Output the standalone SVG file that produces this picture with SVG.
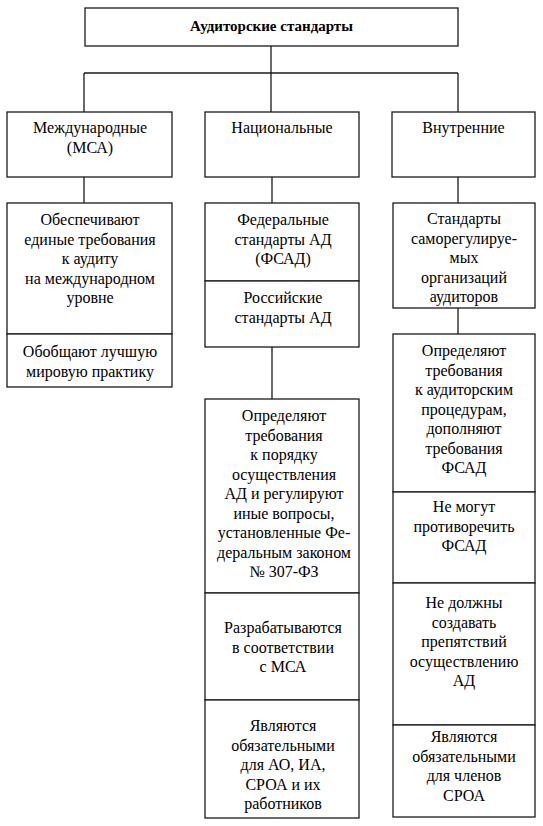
<svg xmlns="http://www.w3.org/2000/svg" width="543" height="826" viewBox="0 0 543 826">
<rect x="0" y="0" width="543" height="826" fill="#fff"/>
<g id="connectors" stroke="#1a1a1a" stroke-width="1.3">
<line x1="271" y1="46" x2="271" y2="73"/>
<line x1="84" y1="73" x2="458" y2="73"/>
<line x1="84" y1="73" x2="84" y2="112"/>
<line x1="271" y1="73" x2="271" y2="112"/>
<line x1="458" y1="73" x2="458" y2="112"/>
<line x1="84" y1="177" x2="84" y2="203"/>
<line x1="272" y1="177" x2="272" y2="203"/>
<line x1="458" y1="177" x2="458" y2="203"/>
<line x1="272" y1="347" x2="272" y2="399"/>
<line x1="458" y1="308" x2="458" y2="334"/>
</g>
<g id="root"><rect x="85" y="8" width="373" height="38" fill="#fff" stroke="#1a1a1a" stroke-width="1.3"/></g>
<text x="271.5" y="31" font-family="Liberation Serif" font-size="15" font-weight="bold" text-anchor="middle">Аудиторские стандарты</text>
<g id="intl"><rect x="7" y="112" width="165" height="65" fill="#fff" stroke="#1a1a1a" stroke-width="1.3"/></g>
<text x="90" y="133" font-family="Liberation Serif" font-size="16" text-anchor="middle">Международные</text>
<text x="90" y="153" font-family="Liberation Serif" font-size="16" text-anchor="middle">(МСА)</text>
<g id="natl"><rect x="205" y="112" width="154" height="65" fill="#fff" stroke="#1a1a1a" stroke-width="1.3"/>
<text x="282" y="133" font-family="Liberation Serif" font-size="16" text-anchor="middle">Национальные</text></g>
<g id="internal"><rect x="392" y="112" width="143" height="65" fill="#fff" stroke="#1a1a1a" stroke-width="1.3"/>
<text x="463.5" y="133" font-family="Times New Roman" font-size="16" text-anchor="middle">Внутренние</text></g>

<g id="intl1"><rect x="7" y="203" width="165" height="131" fill="#fff" stroke="#1a1a1a" stroke-width="1.3"/></g>
<text x="90" y="225" font-family="Liberation Serif" font-size="16" text-anchor="middle">Обеспечивают</text>
<text x="90" y="244.5" font-family="Liberation Serif" font-size="16" text-anchor="middle">единые требования</text>
<text x="90" y="264" font-family="Liberation Serif" font-size="16" text-anchor="middle">к аудиту</text>
<text x="90" y="283.5" font-family="Liberation Serif" font-size="16" text-anchor="middle">на международном</text>
<text x="90" y="303" font-family="Liberation Serif" font-size="16" text-anchor="middle">уровне</text>
<g id="intl2"><rect x="7" y="334" width="165" height="53" fill="#fff" stroke="#1a1a1a" stroke-width="1.3"/></g>
<text x="90" y="357" font-family="Liberation Serif" font-size="16" text-anchor="middle">Обобщают лучшую</text>
<text x="90" y="376.5" font-family="Liberation Serif" font-size="16" text-anchor="middle">мировую практику</text>

<g id="natl1"><rect x="205" y="203" width="154" height="78" fill="#fff" stroke="#1a1a1a" stroke-width="1.3"/>
<text x="283" y="225" font-family="Liberation Serif" font-size="16" text-anchor="middle">Федеральные</text>
<text x="283" y="244.5" font-family="Liberation Serif" font-size="16" text-anchor="middle">стандарты АД</text>
<text x="283" y="264" font-family="Liberation Serif" font-size="16" text-anchor="middle">(ФСАД)</text></g>
<g id="natl2"><rect x="205" y="281" width="154" height="66" fill="#fff" stroke="#1a1a1a" stroke-width="1.3"/>
<text x="283" y="303" font-family="Liberation Serif" font-size="16" text-anchor="middle">Российские</text>
<text x="283" y="322.5" font-family="Liberation Serif" font-size="16" text-anchor="middle">стандарты АД</text></g>
<g id="natl3"><rect x="205" y="399" width="154" height="194" fill="#fff" stroke="#1a1a1a" stroke-width="1.3"/>
<text x="284" y="421" font-family="Liberation Serif" font-size="16" text-anchor="middle">Определяют</text>
<text x="284" y="440.5" font-family="Liberation Serif" font-size="16" text-anchor="middle">требования</text>
<text x="284" y="460" font-family="Liberation Serif" font-size="16" text-anchor="middle">к порядку</text>
<text x="284" y="479.5" font-family="Liberation Serif" font-size="16" text-anchor="middle">осуществления</text>
<text x="284" y="499" font-family="Liberation Serif" font-size="16" text-anchor="middle">АД и регулируют</text>
<text x="284" y="518.5" font-family="Liberation Serif" font-size="16" text-anchor="middle">иные вопросы,</text>
<text x="284" y="538" font-family="Liberation Serif" font-size="16" text-anchor="middle">установленные Фе-</text>
<text x="284" y="557.5" font-family="Liberation Serif" font-size="16" text-anchor="middle">деральным законом</text>
<text x="284" y="577" font-family="Liberation Serif" font-size="16" text-anchor="middle">№ 307-ФЗ</text></g>
<g id="natl4"><rect x="205" y="593" width="154" height="107" fill="#fff" stroke="#1a1a1a" stroke-width="1.3"/>
<text x="283" y="633" font-family="Liberation Serif" font-size="16" text-anchor="middle">Разрабатываются</text>
<text x="283" y="652.5" font-family="Liberation Serif" font-size="16" text-anchor="middle">в соответствии</text>
<text x="283" y="672" font-family="Liberation Serif" font-size="16" text-anchor="middle">с МСА</text></g>
<g id="natl5"><rect x="205" y="700" width="154" height="118" fill="#fff" stroke="#1a1a1a" stroke-width="1.3"/>
<text x="283" y="731" font-family="Liberation Serif" font-size="16" text-anchor="middle">Являются</text>
<text x="283" y="750.5" font-family="Liberation Serif" font-size="16" text-anchor="middle">обязательными</text>
<text x="283" y="770" font-family="Liberation Serif" font-size="16" text-anchor="middle">для АО, ИА,</text>
<text x="283" y="789.5" font-family="Liberation Serif" font-size="16" text-anchor="middle">СРОА и их</text>
<text x="283" y="809" font-family="Liberation Serif" font-size="16" text-anchor="middle">работников</text></g>

<g id="int1"><rect x="393" y="203" width="142" height="105" fill="#fff" stroke="#1a1a1a" stroke-width="1.3"/>
<text x="464" y="224" font-family="Times New Roman" font-size="16" text-anchor="middle">Стандарты</text>
<text x="464" y="243.5" font-family="Times New Roman" font-size="16" text-anchor="middle">саморегулируе-</text>
<text x="464" y="263" font-family="Times New Roman" font-size="16" text-anchor="middle">мых</text>
<text x="464" y="282.5" font-family="Times New Roman" font-size="16" text-anchor="middle">организаций</text>
<text x="464" y="302" font-family="Times New Roman" font-size="16" text-anchor="middle">аудиторов</text></g>
<g id="int2"><rect x="393" y="334" width="142" height="158" fill="#fff" stroke="#1a1a1a" stroke-width="1.3"/>
<text x="464" y="356" font-family="Times New Roman" font-size="16" text-anchor="middle">Определяют</text>
<text x="464" y="375.5" font-family="Times New Roman" font-size="16" text-anchor="middle">требования</text>
<text x="464" y="395" font-family="Times New Roman" font-size="16" text-anchor="middle">к аудиторским</text>
<text x="464" y="414.5" font-family="Times New Roman" font-size="16" text-anchor="middle">процедурам,</text>
<text x="464" y="434" font-family="Times New Roman" font-size="16" text-anchor="middle">дополняют</text>
<text x="464" y="453.5" font-family="Times New Roman" font-size="16" text-anchor="middle">требования</text>
<text x="464" y="473" font-family="Times New Roman" font-size="16" text-anchor="middle">ФСАД</text></g>
<g id="int3"><rect x="393" y="492" width="142" height="91" fill="#fff" stroke="#1a1a1a" stroke-width="1.3"/>
<text x="464" y="512" font-family="Times New Roman" font-size="16" text-anchor="middle">Не могут</text>
<text x="464" y="531.5" font-family="Times New Roman" font-size="16" text-anchor="middle">противоречить</text>
<text x="464" y="551" font-family="Times New Roman" font-size="16" text-anchor="middle">ФСАД</text></g>
<g id="int4"><rect x="393" y="583" width="142" height="142" fill="#fff" stroke="#1a1a1a" stroke-width="1.3"/>
<text x="464" y="608" font-family="Times New Roman" font-size="16" text-anchor="middle">Не должны</text>
<text x="464" y="627.5" font-family="Times New Roman" font-size="16" text-anchor="middle">создавать</text>
<text x="464" y="647" font-family="Times New Roman" font-size="16" text-anchor="middle">препятствий</text>
<text x="464" y="666.5" font-family="Times New Roman" font-size="16" text-anchor="middle">осуществлению</text>
<text x="464" y="686" font-family="Times New Roman" font-size="16" text-anchor="middle">АД</text></g>
<g id="int5"><rect x="393" y="725" width="142" height="92" fill="#fff" stroke="#1a1a1a" stroke-width="1.3"/>
<text x="464" y="742" font-family="Times New Roman" font-size="16" text-anchor="middle">Являются</text>
<text x="464" y="761.5" font-family="Times New Roman" font-size="16" text-anchor="middle">обязательными</text>
<text x="464" y="781" font-family="Times New Roman" font-size="16" text-anchor="middle">для членов</text>
<text x="464" y="800.5" font-family="Times New Roman" font-size="16" text-anchor="middle">СРОА</text></g>
</svg>
